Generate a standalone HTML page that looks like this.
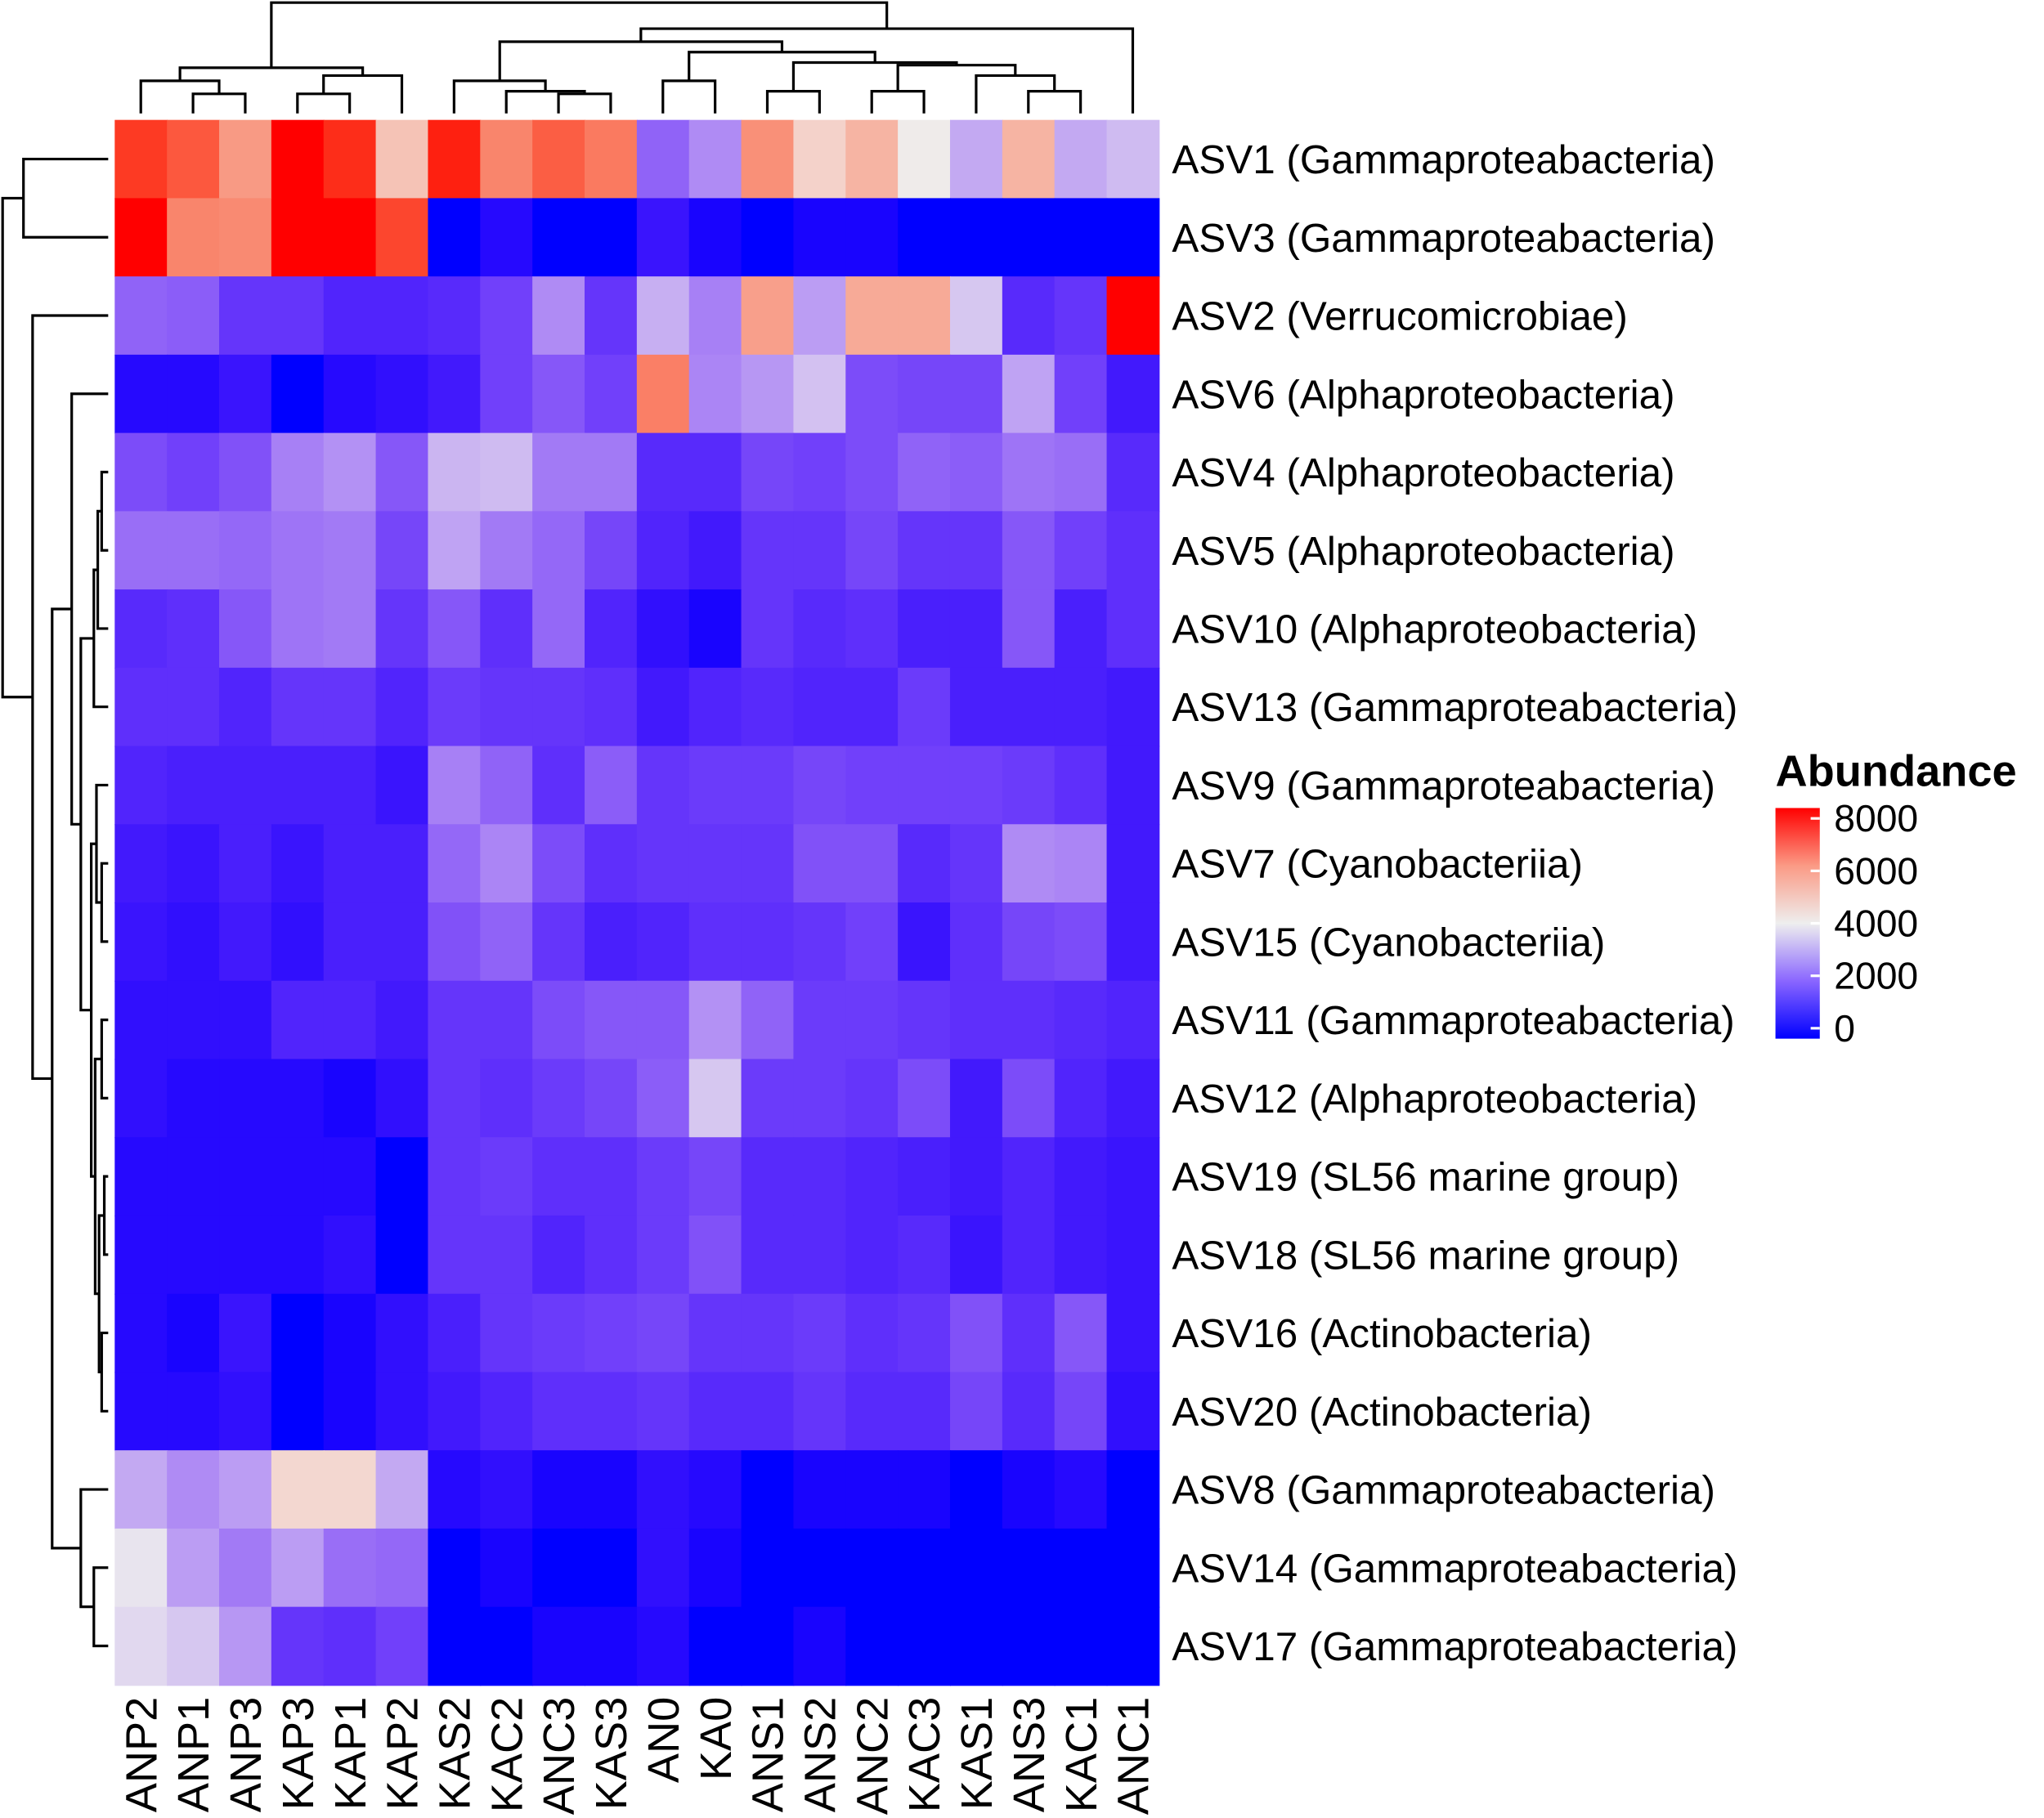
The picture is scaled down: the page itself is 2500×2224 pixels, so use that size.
<!DOCTYPE html>
<html><head><meta charset="utf-8"><style>
html,body{margin:0;padding:0;background:#fff;overflow:hidden;}
svg{display:block;font-family:"Liberation Sans",Arial,sans-serif;}
</style></head><body>
<svg id="chart" width="2500" height="2224" viewBox="0 0 1568 1395" preserveAspectRatio="none" xmlns="http://www.w3.org/2000/svg">
<defs><linearGradient id="lg" x1="0" y1="1" x2="0" y2="0">
<stop offset="0" stop-color="#0000ff"/><stop offset="0.25" stop-color="#8a66ff"/><stop offset="0.5" stop-color="#eeeeee"/><stop offset="0.75" stop-color="#fb9a85"/><stop offset="1" stop-color="#ff0000"/></linearGradient></defs>
<g id="cells"></g>
<g id="dendro" stroke="#000" stroke-width="2" fill="none"></g>
<g id="labels"></g>
<g>
<text x="1362" y="603" font-size="34" font-weight="bold">Abundance</text>
<rect x="1362" y="620" width="34" height="177" fill="url(#lg)"/>
<g id="legticks"></g>
</g>
</svg>
<script>
const cols=["ANP2","ANP1","ANP3","KAP3","KAP1","KAP2","KAS2","KAC2","ANC3","KAS3","AN0","KA0","ANS1","ANS2","ANC2","KAC3","KAS1","ANS3","KAC1","ANC1"];
const rows=["ASV1 (Gammaproteabacteria)","ASV3 (Gammaproteabacteria)","ASV2 (Verrucomicrobiae)","ASV6 (Alphaproteobacteria)","ASV4 (Alphaproteobacteria)","ASV5 (Alphaproteobacteria)","ASV10 (Alphaproteobacteria)","ASV13 (Gammaproteabacteria)","ASV9 (Gammaproteabacteria)","ASV7 (Cyanobacteriia)","ASV15 (Cyanobacteriia)","ASV11 (Gammaproteabacteria)","ASV12 (Alphaproteobacteria)","ASV19 (SL56 marine group)","ASV18 (SL56 marine group)","ASV16 (Actinobacteria)","ASV20 (Actinobacteria)","ASV8 (Gammaproteabacteria)","ASV14 (Gammaproteabacteria)","ASV17 (Gammaproteabacteria)"];
const values=[
[7500,7000,5800,8300,7700,5000,7900,6200,6900,6400,1800,2500,6000,4700,5300,4200,3000,5300,3000,3300],
[8300,6200,6100,8300,8300,7300,0,200,0,0,400,100,0,100,100,0,0,0,0,0],
[1800,1700,1000,1000,700,700,800,1200,2500,1000,3100,2300,5700,2800,5500,5500,3500,800,1000,8300],
[200,200,400,0,200,300,500,1200,1600,1200,6300,2400,2700,3400,1400,1300,1300,2900,1200,500],
[1400,1200,1500,2300,2600,1600,3200,3300,2200,2200,800,800,1300,1200,1400,1800,1700,2100,2000,800],
[2000,2000,1900,2100,2200,1300,2900,2200,1900,1300,700,500,1000,1000,1300,1000,1000,1600,1200,900],
[800,900,1600,2100,2200,1000,1600,900,1900,700,300,100,1000,800,900,600,600,1600,600,900],
[900,900,700,1000,1000,700,1100,1000,1000,900,500,700,800,700,700,1100,600,600,600,500],
[700,600,600,600,600,400,2300,1800,900,1700,1000,1100,1100,1300,1200,1200,1200,1100,900,500],
[500,400,600,400,600,600,1900,2400,1400,900,1000,1000,1000,1500,1500,800,1000,2500,2400,500],
[400,300,500,300,600,600,1500,1800,1000,600,700,900,900,1000,1200,400,900,1300,1400,500],
[300,300,300,700,700,500,1000,1000,1400,1600,1600,2600,1800,1100,1100,1000,900,900,800,700],
[300,200,200,200,100,300,1000,900,1100,1300,1700,3500,1100,1100,1000,1400,500,1400,700,500],
[200,200,200,200,200,0,1000,1100,900,900,1100,1300,800,800,700,600,500,700,500,400],
[200,200,200,200,300,0,1000,1000,700,900,1100,1500,800,800,700,800,400,700,500,400],
[200,100,400,0,100,300,600,1000,1100,1200,1300,1000,1000,1100,900,1000,1500,900,1600,400],
[200,200,300,0,100,300,500,700,900,900,1000,800,800,1000,800,800,1300,800,1300,300],
[3000,2500,2800,4600,4600,3000,200,300,100,100,300,200,0,100,100,100,0,100,200,0],
[4000,2800,2200,2800,2000,1900,0,100,0,0,300,100,0,0,0,0,0,0,0,0],
[3800,3500,2700,1000,900,1200,0,0,100,100,200,0,0,100,0,0,0,0,0,0]];
const legendTicks=[0,2000,4000,6000,8000];
const colTree=[[[0,[1,2,72],62],[[3,4,72],5,58],52],[[[6,[7,[8,9,72],70],62],[[10,11,62],[[12,13,70],[[14,15,70],[16,[17,18,70],58],50],48],40],32],19,22],2];
const bigGroup=[[[[4,5,78],6,75],7,72],[[8,[9,10,78],74],[[11,12,78],[[13,14,80],[15,16,78],76],73],70],62];
const rowTree=[[0,1,18],[2,[[3,bigGroup,55],[17,[18,19,72],62],40],25],2];

const NS="http://www.w3.org/2000/svg";
const X0=88,Y0=92,CW=40.05,RH=60.05,VMAX=8300;
const xs=i=>X0+i*CW, ys=j=>Y0+j*RH;
function color(v){
  let t=Math.max(0,Math.min(1,v/VMAX));
  let r,g,b;
  if(t<0.5){const u=t/0.5;r=238*Math.pow(u,0.6);g=238*Math.pow(u,1.05);b=255-17*u;}
  else{const u=(t-0.5)/0.5;r=238+17*Math.pow(u,0.5);g=238*Math.pow(1-u,0.85);b=238*Math.pow(1-u,1.15);}
  return `rgb(${r|0},${g|0},${b|0})`;
}
function mk(tag,attrs,parent){const e=document.createElementNS(NS,tag);for(const k in attrs)e.setAttribute(k,attrs[k]);parent.appendChild(e);return e;}
const cells=document.getElementById('cells');
values.forEach((row,j)=>row.forEach((v,i)=>{
  const r=mk('rect',{x:xs(i),y:ys(j),width:CW+0.6,height:RH+0.6,fill:color(v)},cells);
  
  
}));
const lab=document.getElementById('labels');
rows.forEach((t,j)=>{
  const e=mk('text',{x:899,y:ys(j)+RH/2+11,'font-size':31},lab);e.textContent=t;
  
  
});
cols.forEach((t,i)=>{
  const cx=xs(i)+CW/2+12,cy=1302;
  const e=mk('text',{x:cx,y:cy,'font-size':34,'text-anchor':'end',transform:`rotate(-90 ${cx} ${cy})`},lab);e.textContent=t;
  
  
});
const dg=document.getElementById('dendro');
function drawCol(n){
  if(typeof n==='number')return [xs(n)+CW/2,87];
  const a=drawCol(n[0]),b=drawCol(n[1]),h=n[2];
  mk('path',{d:`M${a[0]},${a[1]}V${h}H${b[0]}V${b[1]}`},dg);
  return [(a[0]+b[0])/2,h];
}
function drawRow(n){
  if(typeof n==='number')return [83,ys(n)+RH/2];
  const a=drawRow(n[0]),b=drawRow(n[1]),h=n[2];
  mk('path',{d:`M${a[0]},${a[1]}H${h}V${b[1]}H${b[0]}`},dg);
  return [h,(a[1]+b[1])/2];
}
drawCol(colTree);drawRow(rowTree);
const lt=document.getElementById('legticks');
legendTicks.forEach(v=>{
  const y=789-v/8000*161;
  mk('line',{x1:1389,x2:1396,y1:y,y2:y,stroke:'#fff','stroke-width':2},lt);
  const e=mk('text',{x:1407,y:y+10,'font-size':29},lt);e.textContent=v;
  
  
});
</script>
</body></html>
